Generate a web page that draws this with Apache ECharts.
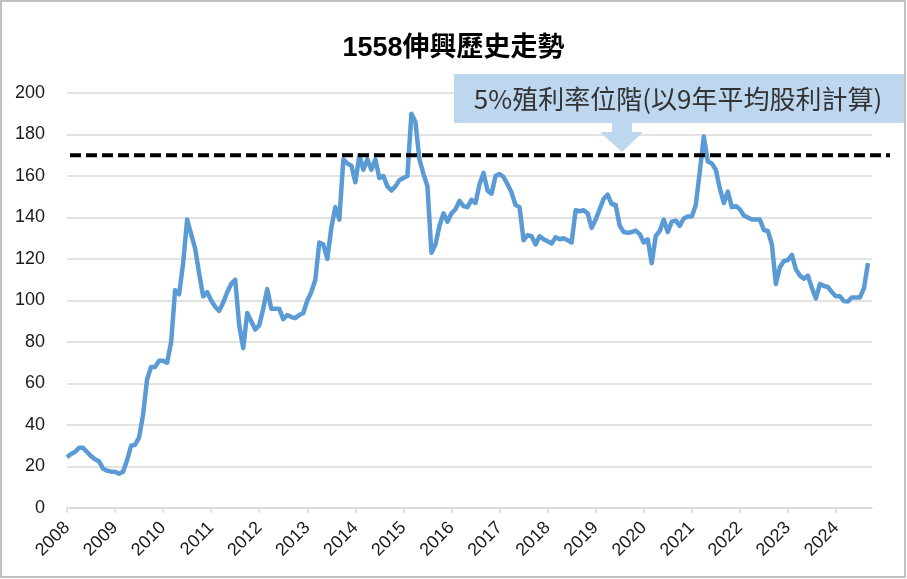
<!DOCTYPE html>
<html>
<head>
<meta charset="utf-8">
<script src="https://cdn.jsdelivr.net/npm/echarts@6/dist/echarts.min.js"></script>
<style>
  html, body { margin: 0; padding: 0; background: #fff; }
</style>
</head>
<body>
<div id="main" style="width: 907px; height: 579px;"></div>

<script type="text/javascript">

    // monthly price, one array per year
    var p2008 = [24.5, 26, 27, 29, 29, 27, 25, 23.5, 22.5, 19, 18, 17.5];
    var p2009 = [17.5, 16.5, 17.5, 23, 30, 30.5, 34, 45, 62, 68, 68, 71];
    var p2010 = [71, 70, 80, 105, 103, 118, 139, 132, 125, 113, 102, 104];
    var p2011 = [100, 97, 95, 99, 104, 108, 110, 88, 77, 94, 90, 86];
    var p2012 = [88, 96, 105.5, 96, 96, 96, 91, 93, 92, 91.5, 93, 94];
    var p2013 = [100, 104, 110, 128, 127, 120, 135, 145, 139, 168, 166, 165];
    var p2014 = [157, 170, 163, 168, 163, 168, 159, 160, 155, 153, 155, 158];
    var p2015 = [159, 160, 190, 186, 168, 161, 155, 123, 127, 136, 142, 138];
    var p2016 = [142, 144, 148, 145.5, 145, 148.5, 147, 156, 161.5, 153, 151.5, 160];
    var p2017 = [161, 159.5, 156, 152, 146, 145, 129, 131.5, 131, 127, 131, 129.5];
    var p2018 = [128.5, 127.5, 130.5, 129.5, 130, 129, 128, 143.5, 143, 143.5, 142, 135];
    var p2019 = [139, 144, 149, 151, 146.5, 146, 136, 133, 132.6, 133, 133.7, 132];
    var p2020 = [128, 129.5, 118, 131, 133.5, 139, 133, 138, 138.5, 136, 139.5, 140.5];
    var p2021 = [140.5, 146, 162, 179, 167, 166, 163, 154, 147, 152.5, 145, 145.5];
    var p2022 = [144, 141, 140, 139, 139, 139, 134, 133.5, 127, 108, 116, 119];
    var p2023 = [119.5, 122, 115, 112, 110.5, 112, 106, 101, 108, 107, 106.5, 104];
    var p2024 = [102, 102, 99.7, 99.5, 101.5, 101.5, 101.5, 106, 118];

    var yearList = [2008, 2009, 2010, 2011, 2012, 2013, 2014, 2015, 2016,
                    2017, 2018, 2019, 2020, 2021, 2022, 2023, 2024];
    var yTicks = [0, 20, 40, 60, 80, 100, 120, 140, 160, 180, 200];
    var yieldLevel = 170;   // 5%殖利率位階
    var titleText = "1558伸興歷史走勢";
    var noteText = "5%殖利率位階(以9年平均股利計算)";

    var prices = [].concat(p2008, p2009, p2010, p2011, p2012, p2013, p2014, p2015, p2016,
                           p2017, p2018, p2019, p2020, p2021, p2022, p2023, p2024);

    // month categories, one spare month after the last price
    var months = [];
    yearList.forEach(function (y) {
        for (var m = 1; m <= 12; m++) {
            months.push(y + "-" + (m < 10 ? "0" + m : m));
        }
    });
    months = months.slice(0, prices.length + 1);

    var ec = echarts.init(document.getElementById('main'));

    var option = {
        animation: false,
        backgroundColor: '#fff',
        title: {
            text: titleText,
            left: 'center',
            top: 30,
            textStyle: {
                fontFamily: "'Liberation Sans', 'Noto Sans CJK TC'",
                fontSize: 27,
                fontWeight: 'bold',
                color: '#000'
            }
        },
        grid: [
            { left: 67, right: 35, top: 93, bottom: 71 },
            { left: 70, right: 17, top: 93, bottom: 71 }
        ],
        xAxis: [{
            type: 'category',
            gridIndex: 0,
            data: months,
            boundaryGap: false,
            axisLine: { lineStyle: { color: '#d9d9d9', width: 1.5 } },
            axisTick: {
                interval: function (i) { return i % 12 === 0; },
                length: 5,
                lineStyle: { color: '#d9d9d9', width: 1.5 }
            },
            axisLabel: {
                interval: function (i) { return i % 12 === 0; },
                formatter: function (v) { return v.slice(0, 4); },
                rotate: 45,
                margin: 17,
                fontFamily: "'Liberation Sans', Arial",
                fontSize: 18,
                color: '#1a1a1a'
            },
            splitLine: { show: false }
        }, {
            type: 'value',
            gridIndex: 1,
            min: 0,
            max: 1,
            show: false
        }],
        yAxis: [{
            type: 'value',
            gridIndex: 0,
            min: yTicks[0],
            max: yTicks[yTicks.length - 1],
            interval: 20,
            axisLine: { show: false },
            axisTick: { show: false },
            axisLabel: {
                margin: 22,
                fontFamily: "'Liberation Sans', Arial",
                fontSize: 18,
                color: '#1a1a1a'
            },
            splitLine: { lineStyle: { color: '#d9d9d9', width: 1.5 } }
        }, {
            type: 'value',
            gridIndex: 1,
            min: yTicks[0],
            max: yTicks[yTicks.length - 1],
            show: false
        }],
        series: [{
            name: '股價',
            type: 'line',
            xAxisIndex: 0,
            yAxisIndex: 0,
            data: prices,
            showSymbol: false,
            symbol: 'none',
            lineStyle: { color: '#5B9BD5', width: 4.5, join: 'round' },
            z: 3
        }, {
            name: '5%殖利率',
            type: 'line',
            xAxisIndex: 1,
            yAxisIndex: 1,
            data: [[0, yieldLevel], [1, yieldLevel]],
            symbol: 'none',
            lineStyle: { color: '#000', width: 4, type: [11, 5], cap: 'butt' },
            z: 4
        }],
        graphic: [
            // outer frame
            {
                type: 'rect',
                shape: { x: 1, y: 1, width: 904, height: 576 },
                style: { fill: 'none', stroke: '#c0c0c0', lineWidth: 2 },
                z: 100
            },
            // note box
            {
                type: 'rect',
                shape: { x: 454, y: 74, width: 451, height: 49 },
                style: { fill: '#BDD7EE' },
                z: 50
            },
            {
                type: 'text',
                x: 678,
                y: 99,
                style: {
                    text: noteText,
                    align: 'center',
                    verticalAlign: 'middle',
                    fontFamily: "'Noto Sans CJK TC', 'Liberation Sans'",
                    fontSize: 26,
                    fill: '#333'
                },
                z: 51
            },
            // arrow pointing to the dashed line
            {
                type: 'polygon',
                shape: {
                    points: [[612, 122], [632, 122], [632, 132], [643, 132],
                             [622, 152], [600, 132], [612, 132]]
                },
                style: { fill: '#BDD7EE' },
                z: 50
            }
        ]
    };

    ec.setOption(option);
</script>
</body>
</html>
